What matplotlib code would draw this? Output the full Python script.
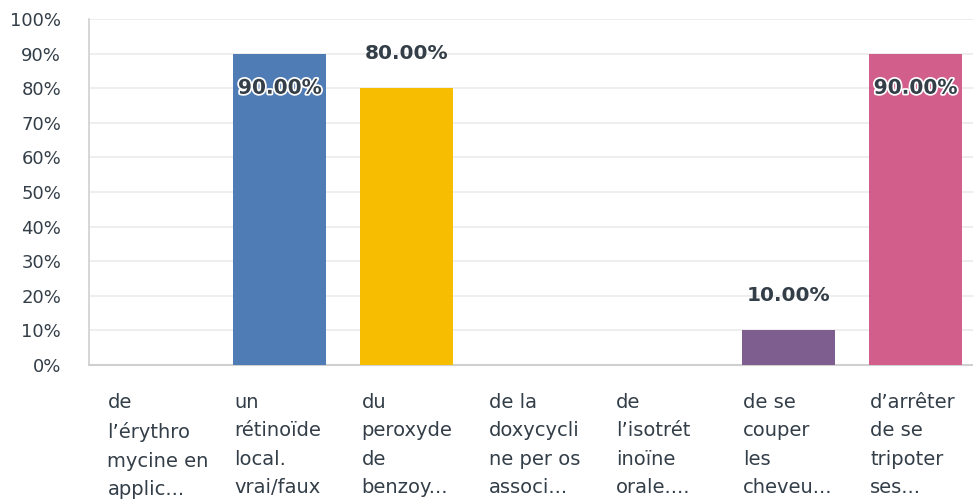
import matplotlib.pyplot as plt
import matplotlib.patheffects as pe
import matplotlib.transforms as mtransforms

categories = [
    "de\nl\u2019érythro\nmycine en\napplic...",
    "un\nrétinoïde\nlocal.\nvrai/faux",
    "du\nperoxyde\nde\nbenzoy...",
    "de la\ndoxycycli\nne per os\nassoci...",
    "de\nl\u2019isotrét\ninoïne\norale....",
    "de se\ncouper\nles\ncheveu...",
    "d\u2019arrêter\nde se\ntripoter\nses...",
]
values = [0, 90, 80, 0, 0, 10, 90]
colors = ["#4f7cb5", "#4f7cb5", "#f7bd00", "#4f7cb5", "#4f7cb5", "#7d5e8f", "#d25e8b"]

text_color = "#333e48"
plt.rcParams['font.family'] = ['DejaVu Sans']

fig = plt.figure(figsize=(9.73, 5), dpi=100)
ax = fig.add_axes([89 / 973, 0.27, (979 - 89) / 973, 0.692])

x = list(range(len(categories)))
ax.bar(x, values, width=0.73, color=colors, zorder=3)

ax.set_xlim(-0.5, len(categories) - 0.5)
ax.set_ylim(0, 100)
ax.set_yticks(range(0, 101, 10))
ax.set_yticklabels([f"{v}%" for v in range(0, 101, 10)])
ax.tick_params(axis='y', length=0, pad=20, labelsize=13, labelcolor=text_color)
ax.set_xticks([])
ax.grid(axis='y', color="#ebebeb", linewidth=1.2, zorder=0)

for side in ['top', 'right']:
    ax.spines[side].set_visible(False)
ax.spines['left'].set_color("#d0d0d0")
ax.spines['bottom'].set_color("#d0d0d0")
ax.spines['left'].set_linewidth(1.2)
ax.spines['bottom'].set_linewidth(1.5)

for i, v in enumerate(values):
    if v == 0:
        continue
    label = f"{v:.2f}%"
    if v >= 85:
        ax.text(i, v - 10, label, ha='center', va='center', fontsize=14.5,
                fontweight='bold', color=text_color, zorder=4,
                path_effects=[pe.withStroke(linewidth=2.5, foreground='white')])
    else:
        ax.text(i, v + 10, label, ha='center', va='center', fontsize=14.5,
                fontweight='bold', color=text_color, zorder=4)

trans = mtransforms.blended_transform_factory(ax.transData, ax.transAxes)
for i, cat in enumerate(categories):
    ax.text(i - 0.355, -0.08, cat, transform=trans, ha='left', va='top',
            fontsize=14, color=text_color, linespacing=1.64)

fig.savefig("out.png", dpi=100)
